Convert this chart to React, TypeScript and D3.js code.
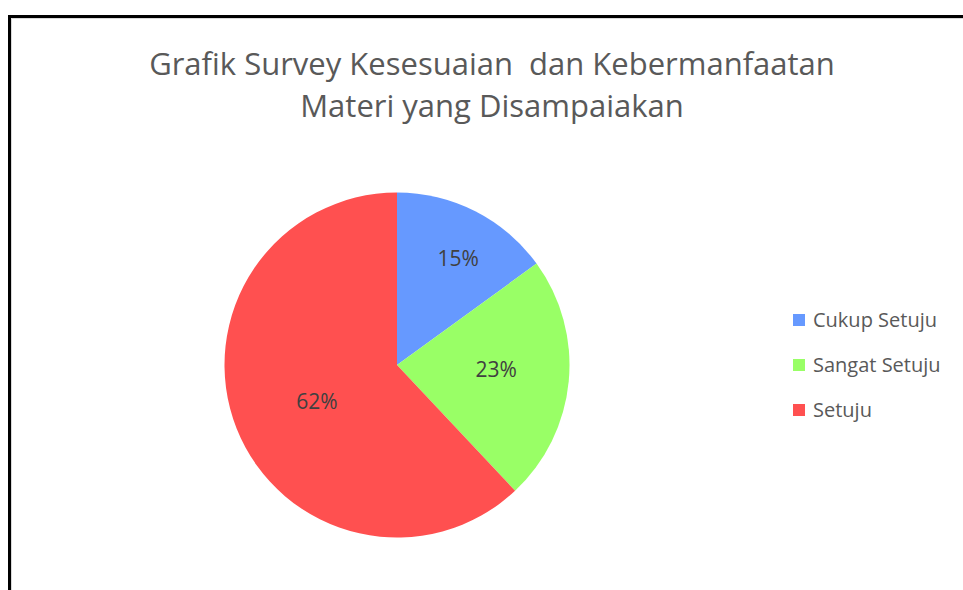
import React, { useEffect, useRef } from 'react';
import * as d3 from 'd3';

// survey answers and their share (percent)
const categories = ['Cukup Setuju', 'Sangat Setuju', 'Setuju'];
const values = [15, 23, 62];
const colors = ['#6699FF', '#99FF66', '#FF5050'];
const titleLines = ['Grafik Survey Kesesuaian  dan Kebermanfaatan', 'Materi yang Disampaiakan'];

// where each percent label sits: fraction of the radius and a nudge in degrees (Excel best fit)
const labelPos = [0.71, 0.575, 0.51];
const labelNudge = [3, -3, -3];

const width = 963;
const height = 590;

function PieChart() {
  const ref = useRef<SVGSVGElement>(null);

  useEffect(() => {
    const svg = d3.select(ref.current);
    svg.selectAll('*').remove();

    const font = "'Open Sans', 'Noto Sans', sans-serif";

    // frame of the screenshot
    svg.append('rect').attr('x', 0).attr('y', 0).attr('width', width).attr('height', height).attr('fill', '#fff');
    svg.append('path')
      .attr('d', 'M11.5,590 V18.5 H963')
      .attr('fill', 'none').attr('stroke', '#d9d9d9').attr('stroke-width', 1);
    svg.append('path')
      .attr('d', 'M9.5,590 V16.5 H963')
      .attr('fill', 'none').attr('stroke', '#000').attr('stroke-width', 3);

    // title
    svg.append('text')
      .attr('x', 492).attr('y', 75)
      .attr('text-anchor', 'middle')
      .style('font-family', font).style('font-size', '31px').style('fill', '#595959')
      .selectAll('tspan')
      .data(titleLines)
      .enter().append('tspan')
      .attr('x', 492)
      .attr('dy', (d, i) => (i === 0 ? 0 : 42))
      .style('white-space', 'pre')
      .text(d => d);

    const cx = 397, cy = 365, radius = 172.5;
    const pie = d3.pie<number>().sort(null).value(d => d);
    const arc = d3.arc<d3.PieArcDatum<number>>().innerRadius(0).outerRadius(radius);
    const arcs = pie(values);

    const g = svg.append('g').attr('transform', 'translate(' + cx + ',' + cy + ')');

    g.selectAll('path.slice')
      .data(arcs)
      .enter().append('path')
      .attr('class', 'slice')
      .attr('d', arc)
      .attr('fill', (d, i) => colors[i]);

    const total = d3.sum(values);
    g.selectAll('text.pct')
      .data(arcs)
      .enter().append('text')
      .attr('class', 'pct')
      .attr('transform', (d, i) => {
        const r = radius * labelPos[i];
        const a = (d.startAngle + d.endAngle) / 2 + (labelNudge[i] * Math.PI) / 180;
        return 'translate(' + d3.pointRadial(a, r) + ')';
      })
      .attr('text-anchor', 'middle')
      .attr('dy', '0.35em')
      .style('font-family', font).style('font-size', '21px').style('fill', '#404040')
      .text(d => Math.round((d.data / total) * 100) + '%');

    // legend
    const ly = d3.scalePoint<string>().domain(categories).range([320, 410]);
    const leg = svg.selectAll('g.leg')
      .data(categories)
      .enter().append('g')
      .attr('class', 'leg')
      .attr('transform', d => 'translate(793,' + ly(d) + ')');

    leg.append('rect')
      .attr('x', 0).attr('y', -6).attr('width', 12).attr('height', 12)
      .attr('fill', (d, i) => colors[i]);

    leg.append('text')
      .attr('x', 20).attr('dy', '0.35em')
      .style('font-family', font).style('font-size', '20px').style('fill', '#595959')
      .text(d => d);
  }, []);

  return <svg ref={ref} width={width} height={height} style={{ position: 'absolute', left: 0, top: 0 }} />;
}

export default function App() {
  return <PieChart />;
}
